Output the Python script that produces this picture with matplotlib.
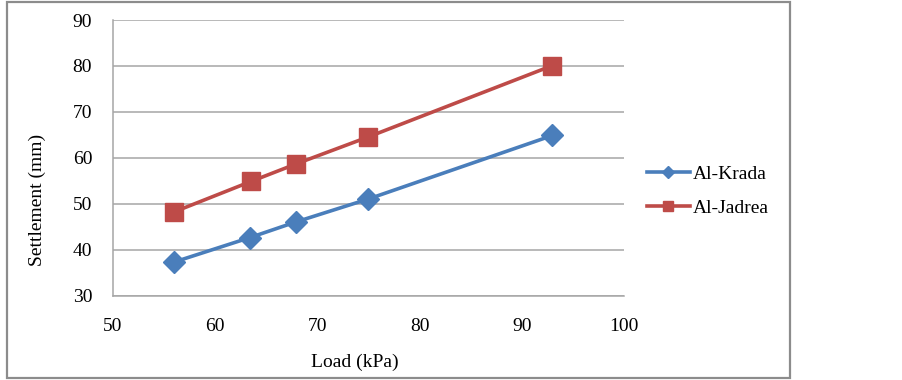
import matplotlib.pyplot as plt
from matplotlib.patches import Rectangle

# data
load_krada = [56, 63.4, 67.9, 75, 93]
settle_krada = [37.4, 42.7, 46.1, 51.1, 64.9]
load_jadrea = [56, 63.5, 67.9, 75, 93]
settle_jadrea = [48.3, 54.9, 58.7, 64.6, 80.1]

plt.rcParams['font.family'] = ['Liberation Serif', 'DejaVu Serif']

fig = plt.figure(figsize=(9.03, 3.80), dpi=100)
W, H = 903, 380
ax = fig.add_axes([113 / W, 1 - 296 / H, (624 - 113) / W, (296 - 20) / H])

ax.plot(load_krada, settle_krada, color='#4A7EBB', lw=2.6, marker='D', ms=11,
        label='Al-Krada', zorder=3)
ax.plot(load_jadrea, settle_jadrea, color='#BE4B48', lw=2.6, marker='s', ms=12.5,
        label='Al-Jadrea', zorder=3)

ax.set_xlim(50, 100)
ax.set_ylim(30, 90)
ax.set_xticks(range(50, 101, 10))
ax.set_yticks(range(30, 91, 10))
ax.grid(axis='y', color='#A6A6A6', lw=1.1)
ax.set_axisbelow(True)
for s in ['top', 'right']:
    ax.spines[s].set_visible(False)
for s in ['left', 'bottom']:
    ax.spines[s].set_color('#A6A6A6')
    ax.spines[s].set_linewidth(1.1)
ax.tick_params(length=0, labelsize=14)
ax.tick_params(axis='y', pad=15)
ax.tick_params(axis='x', pad=16)

fig.text(37 / W, 1 - 200 / H, 'Settlement (mm)', rotation=90, fontsize=14,
         ha='center', va='center')
fig.text(355 / W, 1 - 362 / H, 'Load (kPa)', fontsize=14, ha='center', va='center')

leg = ax.legend(loc='center left', bbox_to_anchor=(647 / W, 1 - 191 / H),
                bbox_transform=fig.transFigure, frameon=False, fontsize=14,
                handlelength=2.2, handletextpad=0.15, labelspacing=0.85,
                borderpad=0, borderaxespad=0, markerscale=0.6)

fig.patches.append(Rectangle((7 / W, 1 - 378 / H), (790 - 7) / W, (378 - 2) / H,
                             transform=fig.transFigure, fill=False,
                             edgecolor='#8C8C8C', lw=1.6))

fig.savefig('out.png', dpi=100)
